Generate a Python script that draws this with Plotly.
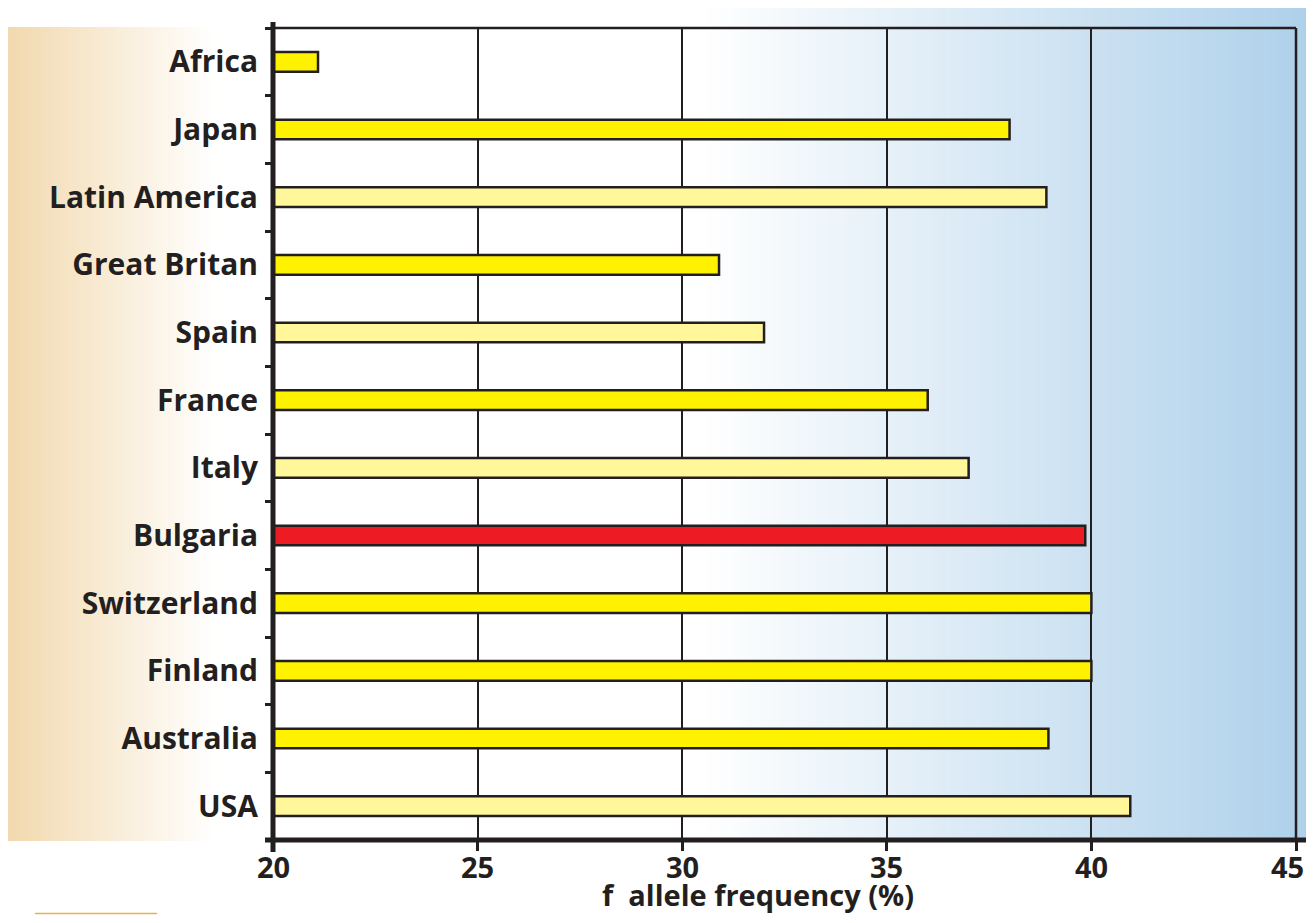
import plotly.graph_objects as go

# ---- data ----
countries = ["Africa", "Japan", "Latin America", "Great Britan", "Spain", "France",
             "Italy", "Bulgaria", "Switzerland", "Finland", "Australia", "USA"]
frequency = [21.1, 38.0, 38.9, 30.9, 32.0, 36.0, 37.0, 39.85, 40.0, 40.0, 38.95, 40.95]
bar_kind = ["yellow", "yellow", "pale", "yellow", "pale", "yellow",
            "pale", "red", "yellow", "yellow", "yellow", "pale"]
x_ticks = [20, 25, 30, 35, 40, 45]
x_title = "f\u00a0 allele frequency (%)"

palette = {"yellow": "#FFF200", "pale": "#FFF799", "red": "#ED1C24"}
INK = "#231F20"
FONT = "Open Sans"

# the page body adds an 8 px margin around the figure; keep page == window
OFF = 8
PAGE_W, PAGE_H = 1314, 923
W, H = PAGE_W - 2 * OFF, PAGE_H - 2 * OFF
L, R, T, B = 273, 1296, 28, 840  # plot box in page pixels


def px(xp):
    return (xp - L) / (R - L)


def py(yp):
    return (B - yp) / (B - T)


def lerp(c1, c2, t):
    return "rgb(%d,%d,%d)" % tuple(round(a + (b - a) * t) for a, b in zip(c1, c2))


shapes = []
# blue gradient behind the plot area (white -> light blue)
n = 90
x0p, x1p = 700, 1311
for i in range(n):
    a = x0p + (x1p - x0p) * i / n
    b = x0p + (x1p - x0p) * (i + 1) / n + 0.8
    shapes.append(dict(type="rect", xref="paper", yref="paper",
                       x0=px(a), x1=px(min(b, x1p)), y0=py(840), y1=py(8),
                       fillcolor=lerp((255, 255, 255), (174, 208, 234), (i + 0.5) / n),
                       line=dict(width=0), layer="below"))
# beige gradient behind the category labels
n2 = 60
b0p, b1p = 8, 215
for i in range(n2):
    a = b0p + (b1p - b0p) * i / n2
    b = b0p + (b1p - b0p) * (i + 1) / n2 + 0.8
    shapes.append(dict(type="rect", xref="paper", yref="paper",
                       x0=px(a), x1=px(min(b, b1p)), y0=py(841), y1=py(27),
                       fillcolor=lerp((242, 217, 174), (255, 255, 255), (i + 0.5) / n2),
                       line=dict(width=0), layer="below"))

# frame: top and right (thin), axes (thick)
shapes += [
    dict(type="line", xref="paper", yref="paper", x0=0, x1=1, y0=1, y1=1,
         line=dict(color=INK, width=2.5), layer="above"),
    dict(type="line", xref="paper", yref="paper", x0=1, x1=1, y0=0, y1=1,
         line=dict(color=INK, width=2.5), layer="above"),
    dict(type="line", xref="paper", yref="paper", x0=px(265), x1=px(1312), y0=0, y1=0,
         line=dict(color=INK, width=5), layer="above"),
    dict(type="line", xref="paper", yref="paper", x0=0, x1=0, y0=py(852), y1=py(22),
         line=dict(color=INK, width=5), layer="above"),
    # small orange rule at the bottom-left
    dict(type="line", xref="paper", yref="paper", x0=px(35), x1=px(157), y0=py(913.5), y1=py(913.5),
         line=dict(color="#EBB243", width=1.5), layer="above"),
]

fig = go.Figure()
fig.add_trace(go.Bar(
    y=countries, x=frequency, orientation="h",
    marker=dict(color=[palette[k] for k in bar_kind], line=dict(color=INK, width=2.5)),
    width=0.29, showlegend=False, hoverinfo="x+y",
))

# x tick labels (as annotations so the last one stays inside the page)
for v in x_ticks:
    last = v == x_ticks[-1]
    fig.add_annotation(text=str(v), xref="x", yref="paper", x=v, y=py(866),
                       xanchor="right" if last else "center", yanchor="middle",
                       xshift=9 if last else 0, showarrow=False, borderpad=0,
                       font=dict(family=FONT, size=29, color=INK, weight="bold"))

fig.add_annotation(text=x_title, xref="paper", yref="paper",
                   x=px(758), y=py(PAGE_H - OFF), xanchor="center", yanchor="bottom",
                   showarrow=False, borderpad=0,
                   font=dict(family=FONT, size=29, color=INK, weight="bold"))

fig.update_layout(
    width=W, height=H,
    margin=dict(l=L - OFF, r=W - (R - OFF), t=T - OFF, b=H - (B - OFF), pad=0),
    paper_bgcolor="white", plot_bgcolor="rgba(0,0,0,0)",
    font=dict(family=FONT, color=INK),
    shapes=shapes,
    xaxis=dict(range=[20, 45], tickvals=x_ticks, showticklabels=False,
               showgrid=True, gridcolor=INK, gridwidth=2.2, zeroline=False, showline=False,
               ticks="outside", ticklen=10, tickwidth=2.5, tickcolor=INK),
    yaxis=dict(autorange="reversed", type="category", tickson="boundaries",
               showgrid=False, zeroline=False, showline=False,
               ticks="outside", ticklen=7, tickwidth=2.5, tickcolor=INK,
               ticklabelstandoff=14,
               tickfont=dict(family=FONT, size=30, color=INK, weight="bold")),
)

fig.write_html("out.html")
